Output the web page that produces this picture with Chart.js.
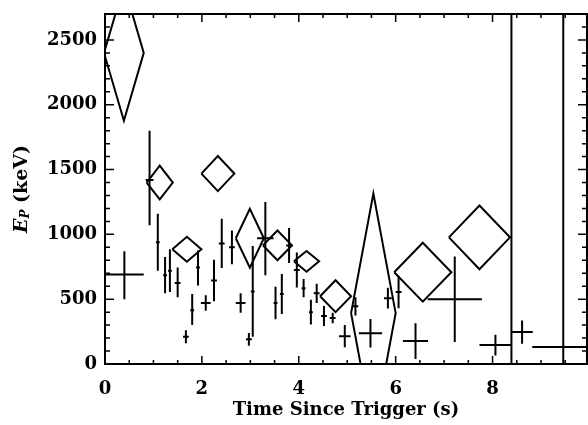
<!DOCTYPE html>
<html>
<head>
<meta charset="utf-8">
<script src="https://cdn.jsdelivr.net/npm/chart.js@4.4.0/dist/chart.umd.min.js"></script>
<style>
html, body { margin: 0; padding: 0; background: #fff; }
#wrap { width: 588px; height: 425px; }
</style>
</head>
<body>
<div id="wrap"><canvas id="chart"></canvas></div>
<script>
// error crosses: time (s), time half-width, Ep (keV), lower / upper Ep error
const crossT    = [0.40, 0.92, 1.09, 1.24, 1.34, 1.50, 1.67, 1.80, 1.92, 2.08, 2.25, 2.41, 2.62, 2.80, 2.97, 3.05, 3.31, 3.52, 3.65, 3.80, 3.96, 4.10, 4.25, 4.37, 4.52, 4.70, 4.95, 5.17, 5.48, 5.84, 6.06, 6.41, 7.22, 8.06, 8.39, 8.61, 9.46, 9.46];
const crossTErr = [0.40, 0.08, 0.04, 0.04, 0.04, 0.06, 0.06, 0.04, 0.04, 0.10, 0.06, 0.06, 0.06, 0.10, 0.06, 0.04, 0.17, 0.04, 0.04, 0.06, 0.06, 0.04, 0.04, 0.06, 0.06, 0.06, 0.12, 0.06, 0.24, 0.08, 0.06, 0.26, 0.56, 0.33, 0.00, 0.22, 0.64, 0.00];
const crossE    = [690, 1420, 940, 685, 720, 625, 210, 415, 745, 470, 645, 930, 900, 470, 190, 560, 970, 470, 540, 915, 725, 585, 400, 545, 370, 355, 215, 445, 238, 508, 555, 177, 500, 146, 1300, 246, 131, 1350];
const crossELo  = [190, 350, 220, 140, 165, 110, 50, 115, 140, 60, 160, 190, 130, 75, 50, 350, 285, 125, 155, 135, 135, 70, 95, 75, 77, 40, 85, 70, 110, 80, 125, 138, 330, 80, 1400, 90, 110, 1350];
const crossEHi  = [180, 380, 220, 140, 165, 120, 50, 125, 130, 60, 160, 190, 130, 75, 50, 350, 280, 125, 155, 135, 135, 70, 95, 75, 77, 40, 85, 70, 110, 80, 125, 138, 330, 80, 1500, 90, 110, 1400];

// error diamonds: time (s), time half-width, Ep (keV), Ep half-height
const diaT    = [0.39, 1.13, 1.69, 2.33, 2.99, 3.56, 4.16, 4.76, 5.54, 6.56, 7.73];
const diaTErr = [0.41, 0.27, 0.30, 0.34, 0.29, 0.30, 0.26, 0.32, 0.46, 0.59, 0.63];
const diaE    = [2400, 1400, 885, 1469, 970, 915, 792, 523, 392, 708, 977];
const diaEErr = [523, 130, 96, 135, 227, 115, 80, 123, 923, 227, 246];

const xTicks = [0, 2, 4, 6, 8];
const yTicks = [0, 500, 1000, 1500, 2000, 2500];

const FONT = 'DejaVu Serif';

function crossPoints(){
	const pts = [];
	crossT.forEach((t, i) => {
		const e = crossE[i];
		pts.push({x: t - crossTErr[i], y: e}, {x: t + crossTErr[i], y: e}, {x: t, y: null});
		pts.push({x: t, y: e - crossELo[i]}, {x: t, y: e + crossEHi[i]}, {x: t, y: null});
	});
	return pts;
}

function diamondPoints(){
	const pts = [];
	diaT.forEach((t, i) => {
		const e = diaE[i], dx = diaTErr[i], dy = diaEErr[i];
		pts.push({x: t - dx, y: e}, {x: t, y: e + dy}, {x: t + dx, y: e},
			{x: t, y: e - dy}, {x: t - dx, y: e}, {x: t, y: null});
	});
	return pts;
}

// box with inward ticks on all four sides + the y title
const frame = {
	id: 'frame',
	afterDatasetsDraw(chart){
		const {ctx, chartArea: a, scales: {x, y}} = chart;
		ctx.save();
		ctx.strokeStyle = '#000';
		ctx.lineWidth = 2;
		ctx.strokeRect(a.left, a.top, a.right - a.left, a.bottom - a.top);
		ctx.lineWidth = 1.5;
		ctx.beginPath();
		for(let v = 0; v <= x.max + 1e-9; v += 0.5){
			const px = x.getPixelForValue(v);
			const len = (v % 2 === 0) ? 8 : 4;
			ctx.moveTo(px, a.bottom); ctx.lineTo(px, a.bottom - len);
			ctx.moveTo(px, a.top); ctx.lineTo(px, a.top + len);
		}
		for(let v = 0; v <= y.max; v += 100){
			const py = y.getPixelForValue(v);
			const len = (v % 500 === 0) ? 9 : 5;
			ctx.moveTo(a.left, py); ctx.lineTo(a.left + len, py);
			ctx.moveTo(a.right, py); ctx.lineTo(a.right - len, py);
		}
		ctx.stroke();

		// E_P (keV), rotated
		ctx.translate(22, (a.top + a.bottom) / 2);
		ctx.rotate(-Math.PI / 2);
		ctx.fillStyle = '#000';
		ctx.textBaseline = 'middle';
		const fE = 'italic bold 19px ' + FONT;
		const fP = 'italic bold 12px ' + FONT;
		const fK = 'bold 19px ' + FONT;
		ctx.font = fE; const wE = ctx.measureText('E').width;
		ctx.font = fP; const wP = ctx.measureText('P').width;
		ctx.font = fK; const wK = ctx.measureText(' (keV)').width;
		let cx = -(wE + wP + wK) / 2;
		ctx.font = fE; ctx.fillText('E', cx, 0); cx += wE;
		ctx.font = fP; ctx.fillText('P', cx, 4); cx += wP;
		ctx.font = fK; ctx.fillText(' (keV)', cx, 0);
		ctx.restore();
	}
};

const tickFont = {family: FONT, size: 18, weight: 'bold'};

new Chart(document.getElementById('chart'), {
	type: 'scatter',
	data: {
		datasets: [
			{data: crossPoints(), showLine: true, borderColor: '#000', borderWidth: 2, pointRadius: 0, spanGaps: false, clip: 0},
			{data: diamondPoints(), showLine: true, borderColor: '#000', borderWidth: 2, pointRadius: 0, spanGaps: false, clip: 0}
		]
	},
	options: {
		responsive: true,
		maintainAspectRatio: false,
		animation: false,
		layout: {padding: {top: 14, right: 1, left: 0, bottom: 0}},
		plugins: {legend: {display: false}, tooltip: {enabled: false}},
		scales: {
			x: {
				type: 'linear', min: 0, max: 9.95,
				afterBuildTicks: s => { s.ticks = xTicks.map(v => ({value: v})); },
				afterFit: s => { s.height = 61; s.paddingLeft = 0; s.paddingRight = 0; },
				grid: {display: false, drawTicks: false},
				border: {display: false},
				ticks: {font: tickFont, color: '#000', padding: 15, maxRotation: 0, autoSkip: false, callback: v => String(v)},
				title: {display: true, text: 'Time Since Trigger (s)', color: '#000', font: tickFont, padding: {top: 0, bottom: 4}}
			},
			y: {
				type: 'linear', min: 0, max: 2700,
				afterBuildTicks: s => { s.ticks = yTicks.map(v => ({value: v})); },
				afterFit: s => { s.width = 105; s.paddingTop = 0; s.paddingBottom = 0; },
				grid: {display: false, drawTicks: false},
				border: {display: false},
				ticks: {font: tickFont, color: '#000', padding: 8, autoSkip: false, callback: v => String(v)}
			}
		}
	},
	plugins: [frame]
});
</script>
</body>
</html>
